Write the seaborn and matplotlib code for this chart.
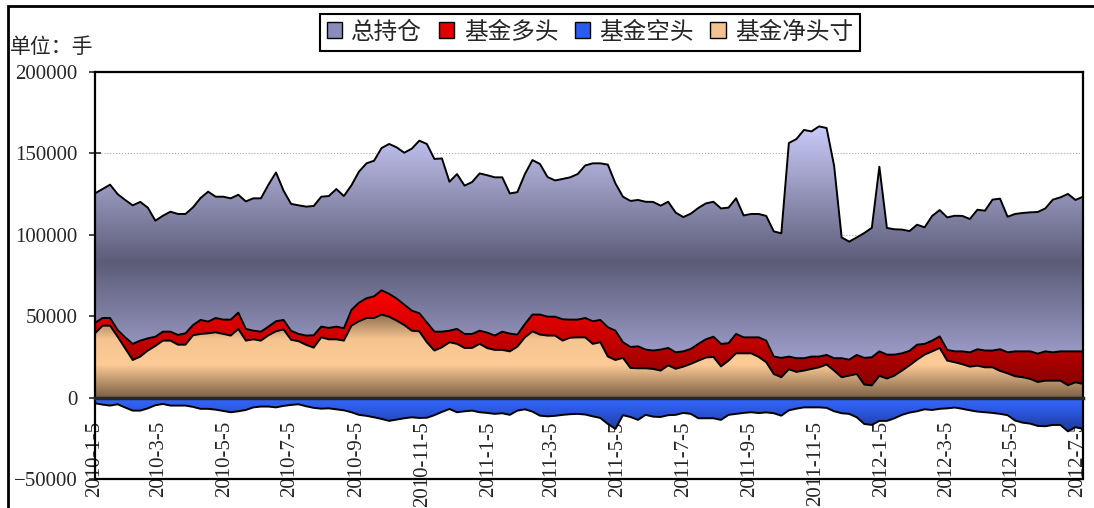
import numpy as np
import pandas as pd
import matplotlib
matplotlib.use("Agg")
import matplotlib.pyplot as plt
import matplotlib.dates as mdates
from matplotlib.colors import LinearSegmentedColormap
from matplotlib.patches import Patch, Rectangle
from matplotlib.ticker import FuncFormatter
import seaborn as sns

# weekly data, 2010-01-05 .. 2012-07-10
dates = pd.date_range("2010-01-05", periods=132, freq="7D")

total_oi = [125440, 128100, 130800, 125000, 121400, 118100, 120200, 116700, 108700, 111700,
            114200, 112800, 112800, 116900, 122600, 126500, 123400, 123400, 122400, 124600,
            120500, 122400, 122400, 130800, 138300, 127100,
            119000, 118100, 117300, 117700, 123400, 123800, 128100, 123800, 130400, 138800,
            143900, 145500, 153300, 155800, 153700, 150400, 152900, 157800, 155800, 146600,
            146900, 132600, 137300, 130200, 132400, 137700,
            136600, 135300, 135300, 125400, 126200, 137300, 145900, 143500, 135500, 133400,
            134300, 135300, 137300, 142600, 143900, 143900, 143100, 131600, 123400, 120800,
            121400, 120300, 120200, 117900, 120300,
            113600, 110900, 113000, 116500, 119300, 120300, 116200, 116700, 122400, 111900,
            112800, 112800, 111600, 102100, 100900, 156400, 158800, 164400, 163500, 166600,
            165600, 142400, 98400, 95800, 98400, 101100,
            104300, 141800, 104200, 103400, 103200, 102300, 106200, 104600, 111600, 115200,
            110700, 111700, 111600, 109700, 115400, 114800, 121600, 122200, 111100, 112800,
            113400, 113800, 114000, 116200, 121600, 123000, 125100, 121400, 123400]

fund_long = [45900, 48900, 48900, 41500, 37000, 33000, 35000, 36400, 37400, 40500,
             40500, 38500, 39500, 44600, 47700, 46700, 48900, 47900, 47900, 52200,
             42200, 41100, 40500, 43600, 46900, 47700,
             41000, 39100, 38100, 38300, 43600, 42800, 43600, 42600, 53800, 58300,
             61000, 62200, 65900, 63700, 60800, 57100, 53400, 51800, 46200, 40500,
             40500, 41100, 42200, 39100, 39100, 41100,
             39900, 38100, 40500, 39300, 38700, 45200, 51000, 51000, 49700, 49700,
             48100, 47900, 47900, 48900, 46900, 47700, 43200, 41100, 34000, 31100,
             31500, 29500, 28900, 29500, 30500,
             27800, 28400, 29900, 33000, 35800, 37400, 33000, 33400, 39100, 37000,
             37000, 37000, 35000, 25200, 24400, 25200, 24200, 24200, 25200, 25200,
             26200, 24200, 24200, 23300, 26200, 24400,
             24800, 28400, 26400, 26400, 27200, 28700, 32500, 33000, 35000, 37600,
             29300, 28400, 28400, 27800, 29700, 28900, 28900, 29700, 27800, 28400,
             28400, 28400, 27000, 28400, 27800, 28400, 28400, 28400, 28400]

fund_short = [-3500, -4300, -4900, -4100, -6100, -8000, -8000, -6600, -4700, -3900,
              -4900, -4900, -4900, -5700, -6900, -6900, -7400, -8200, -9000, -8400,
              -7600, -6000, -5500, -5500, -6000, -5100,
              -4500, -4100, -5300, -6300, -6800, -6600, -7200, -7800, -9000, -10600,
              -11200, -12100, -13100, -14300, -13500, -12700, -12100, -12500, -12400, -10800,
              -8800, -7000, -9000, -8400, -8000, -9000,
              -9400, -10000, -9600, -10600, -8000, -7200, -8600, -11100, -11500, -11200,
              -10600, -10200, -10000, -10400, -11500, -12500, -16200, -19200, -10800, -11900,
              -13700, -10600, -11700, -11900, -10800,
              -10600, -9400, -10000, -12700, -12700, -12700, -13700, -10600, -10000, -9400,
              -9000, -9500, -9100, -9600, -11100, -7800, -6800, -6000, -6000, -6000,
              -6300, -8400, -9600, -10000, -12100, -16200,
              -16800, -14300, -14300, -12700, -10600, -9200, -8400, -7200, -7600, -6900,
              -6600, -6100, -6900, -7800, -8600, -9000, -9400, -10000, -10800, -14100,
              -15400, -16000, -17400, -17600, -16800, -16800, -20700, -18200, -19200]

fund_net = [39500, 44200, 44200, 37400, 30300, 23100, 25200, 28900, 31700, 35000,
            35000, 32500, 32500, 38300, 39100, 39500, 40100, 39100, 38100, 42200,
            35000, 35800, 35000, 38300, 40700, 41900,
            35500, 34600, 32400, 30700, 37000, 35800, 35800, 35000, 44200, 46900,
            48900, 48900, 51000, 49700, 47300, 44600, 41100, 40700, 34000, 28900,
            30900, 34000, 33000, 30500, 30500, 33000,
            30400, 29300, 29300, 28400, 31300, 37000, 40700, 38700, 38100, 38100,
            35000, 36800, 37000, 37000, 33000, 34000, 25200, 23100, 24400, 18200,
            18000, 18000, 17600, 16600, 19800,
            17700, 19000, 20700, 22700, 24600, 25000, 19200, 22700, 27200, 27200,
            27200, 25000, 21700, 14500, 12500, 17400, 15800, 16600, 17600, 18600,
            20300, 16600, 12500, 13500, 14500, 8000,
            7500, 13300, 11700, 13500, 16600, 19800, 23300, 26400, 28400, 30500,
            22700, 21700, 20500, 19000, 19600, 18600, 18600, 16400, 14900, 13100,
            12500, 11500, 9600, 10400, 10400, 10400, 7600, 9400, 8400]

series_names = ["总持仓", "基金多头", "基金空头", "基金净头寸"]
tick_dates = ["2010-01-05", "2010-03-05", "2010-05-05", "2010-07-05", "2010-09-05",
              "2010-11-05", "2011-01-05", "2011-03-05", "2011-05-05", "2011-07-05",
              "2011-09-05", "2011-11-05", "2012-01-05", "2012-03-05", "2012-05-05",
              "2012-07-05"]
tick_labels = ["2010-1-5", "2010-3-5", "2010-5-5", "2010-7-5", "2010-9-5", "2010-11-5",
               "2011-1-5", "2011-3-5", "2011-5-5", "2011-7-5", "2011-9-5", "2011-11-5",
               "2012-1-5", "2012-3-5", "2012-5-5", "2012-7-5"]

df = pd.DataFrame({"date": dates, "total": total_oi, "long": fund_long,
                   "short": fund_short, "net": fund_net})

sns.set_style("white")
plt.rcParams["font.family"] = ["Liberation Serif", "Noto Sans CJK SC", "DejaVu Sans"]
plt.rcParams["axes.unicode_minus"] = True


def gradient_area(ax, col, lo, hi, stops, z):
    coll = ax.fill_between(df["date"], 0, df[col], facecolor="none",
                           edgecolor="none", zorder=z)
    cmap = LinearSegmentedColormap.from_list(col, stops)
    grad = np.linspace(0, 1, 256).reshape(-1, 1)
    xn = mdates.date2num(df["date"])
    im = ax.imshow(grad, cmap=cmap, aspect="auto", origin="lower",
                   extent=[xn[0], xn[-1], lo, hi], zorder=z, interpolation="bilinear")
    im.set_clip_path(coll.get_paths()[0], transform=ax.transData)
    sns.lineplot(data=df, x="date", y=col, color="black", linewidth=1.4,
                 ax=ax, zorder=z + 0.05)


fig = plt.figure(figsize=(10.94, 5.08), dpi=100)
ax = fig.add_axes([95 / 1094, 1 - 479 / 508, 988 / 1094, 407 / 508])

for v in [50000, 100000, 150000, 200000]:
    ax.axhline(v, color="#a8a8a8", linestyle=":", linewidth=0.8, zorder=0.5)

gradient_area(ax, "total", 0, max(total_oi),
              [(0, "#b8b8ec"), (0.5, "#5c5c78"), (1, "#cacafa")], 1.0)
gradient_area(ax, "long", 0, max(fund_long),
              [(0, "#760000"), (0.55, "#c80000"), (1, "#ff0000")], 1.2)
gradient_area(ax, "short", min(fund_short), 0,
              [(0, "#1c3a98"), (0.6, "#2c58e0"), (1, "#3468ff")], 1.4)
gradient_area(ax, "net", 0, max(fund_net),
              [(0, "#7a5e44"), (0.4, "#fccb96"), (0.7, "#f6c490"), (1, "#8e6e50")], 1.6)

ax.set_xlim(dates[0], dates[-1])
ax.set_ylim(-50000, 200000)
ax.set_yticks([-50000, 0, 50000, 100000, 150000, 200000])
ax.yaxis.set_major_formatter(FuncFormatter(lambda v, p: f"{int(v)}".replace("-", "\u2212")))
ax.set_xticks(pd.to_datetime(tick_dates))
ax.set_xticklabels(tick_labels)
ax.set_xlabel("")
ax.set_ylabel("")

ax.spines["bottom"].set_position(("data", 0))
ax.spines["bottom"].set_linewidth(2.5)
for s in ["left", "top", "right"]:
    ax.spines[s].set_linewidth(1.6)
    ax.spines[s].set_color("black")
ax.plot([0, 1], [0, 0], transform=ax.transAxes, color="black", lw=1.6,
        clip_on=False, zorder=5)

ax.tick_params(axis="y", direction="inout", length=9, width=1.2, pad=8,
               labelsize=15, left=True)
ax.tick_params(axis="x", direction="in", length=5, width=1.2, pad=17,
               labelsize=15, bottom=True, labelrotation=90)

fig.text(10 / 1094, 1 - 48 / 508, "单位：手", fontsize=15, ha="left", va="center")

handles = [Patch(facecolor="#8c8cbc", edgecolor="black"),
           Patch(facecolor="#e00000", edgecolor="black"),
           Patch(facecolor="#2a5cf0", edgecolor="black"),
           Patch(facecolor="#f2c290", edgecolor="black")]
leg = fig.legend(handles, series_names, loc="center",
                 bbox_to_anchor=(590 / 1094, 1 - 32.5 / 508), ncol=4,
                 frameon=True, fancybox=False, edgecolor="black", framealpha=1,
                 fontsize=17, handlelength=0.65, handleheight=0.65,
                 handletextpad=0.4, columnspacing=0.7, borderpad=0.3)
leg.get_frame().set_linewidth(1.5)

fig.patches.append(Rectangle((8 / 1094, -0.1), 1.2, 1.1 - 6 / 508, fill=False,
                             edgecolor="black", linewidth=2, transform=fig.transFigure))

fig.savefig("out.png", dpi=100)
plt.close(fig)
